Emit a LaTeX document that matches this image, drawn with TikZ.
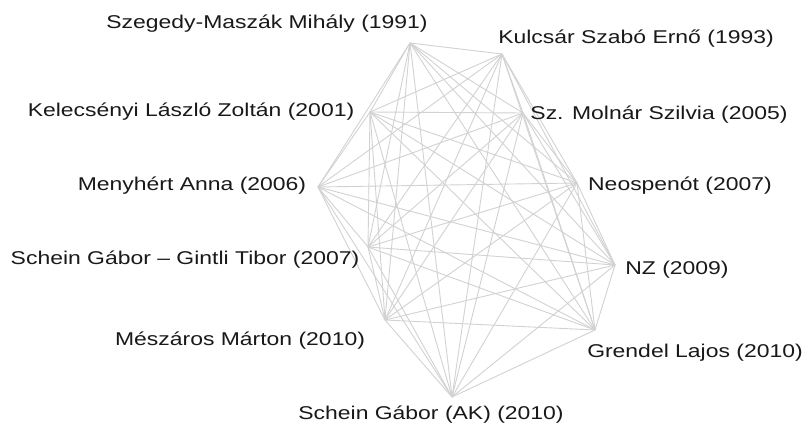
\documentclass[tikz,border=0pt]{standalone}
\usepackage{fontspec}
\setmainfont[FakeStretch=1.24]{Liberation Sans}
\begin{document}
\begin{tikzpicture}[x=1pt,y=-1pt,
  edge/.style={draw={rgb,255:red,210;green,210;blue,210},line width=0.9pt},
  lbl/.style={anchor=base,inner sep=0pt,text={rgb,255:red,25;green,25;blue,25},font=\fontsize{18.5}{21}\selectfont}]
\useasboundingbox (0,0) rectangle (811,430);
\fill[white] (0,0) rectangle (811,430);
\coordinate (v1) at (410,43);
\coordinate (v2) at (502,54);
\coordinate (v3) at (370,112);
\coordinate (v4) at (523,113);
\coordinate (v5) at (318,187);
\coordinate (v6) at (577,183);
\coordinate (v7) at (368,247);
\coordinate (v8) at (615,265);
\coordinate (v9) at (385,320);
\coordinate (v10) at (595,330);
\coordinate (v11) at (452,397);
\foreach \i in {1,...,10}{
  \pgfmathtruncatemacro\k{\i+1}
  \foreach \j in {\k,...,11}{\draw[edge] (v\i) -- (v\j);}
}
\node[lbl] (l1) at (267,29) {Szegedy-Maszák Mihály (1991)};
\node[lbl] (l2) at (636,44) {Kulcsár Szabó Ernő (1993)};
\node[lbl] (l3) at (191,117) {Kelecsényi László Zoltán (2001)};
\node[lbl] (l4) at (659,120) {Sz. Molnár Szilvia (2005)};
\node[lbl] (l5) at (192,191) {Menyhért Anna (2006)};
\node[lbl] (l6) at (680,191) {Neospenót (2007)};
\node[lbl] (l7) at (185,265) {Schein Gábor – Gintli Tibor (2007)};
\node[lbl] (l8) at (677,275) {NZ (2009)};
\node[lbl] (l9) at (240,345) {Mészáros Márton (2010)};
\node[lbl] (l10) at (695,357) {Grendel Lajos (2010)};
\node[lbl] (l11) at (431,419) {Schein Gábor (AK) (2010)};
\end{tikzpicture}
\end{document}
